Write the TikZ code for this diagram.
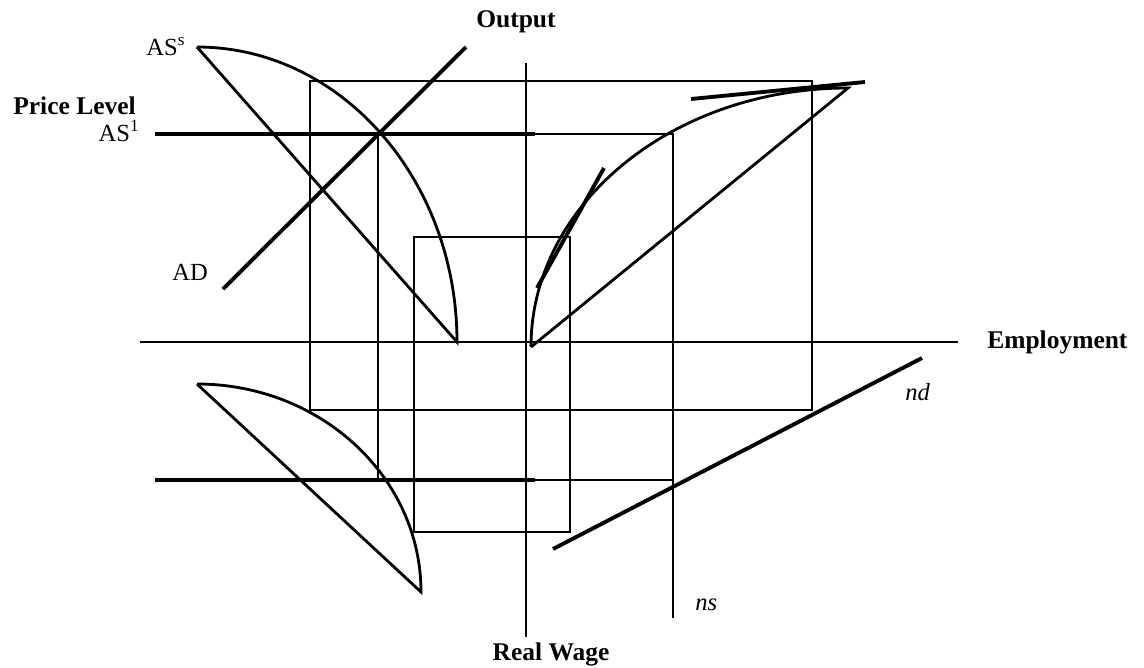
\documentclass[tikz,border=0pt]{standalone}
\usepackage{fontspec}
\setmainfont{Liberation Serif}
\usetikzlibrary{positioning}

\begin{document}
\begin{tikzpicture}[
  x=0.02cm, y=0.02cm,
  axis/.style={line width=1.3pt},
  guide/.style={line width=1.1pt},
  curve/.style={line width=1.6pt},
  heavy/.style={line width=2.2pt},
  axislabel/.style={font=\fontsize{14.5}{17}\selectfont\bfseries, inner sep=0pt},
  curvelabel/.style={font=\fontsize{14}{16}\selectfont, inner sep=0pt}
]
\useasboundingbox (0,0) rectangle (1144,-667);

% axes
\coordinate (wleft) at (140,-342);
\coordinate (wright) at (958,-342);
\coordinate (ytop) at (526,-63);
\coordinate (ybot) at (526,-637);
\draw[axis] (wleft) -- (wright);
\draw[axis] (ytop) -- (ybot);

\node[axislabel, anchor=base] (output) at (516,-27.5) {Output};
\node[axislabel, anchor=base west] (employment) at (987,-348) {Employment};
\node[axislabel, anchor=base] (realwage) at (551,-660) {Real Wage};
\node[axislabel, anchor=base west] (pricelevel) at (13,-114) {Price Level};

% guide boxes
\draw[guide] (310,-81) rectangle (812,-410);
\draw[guide] (414,-237) rectangle (570,-532);
\draw[guide] (378,-134) rectangle (673,-480);

% aggregate supply and demand
\coordinate (asstop) at (197,-47);
\coordinate (assbot) at (457,-342);
\draw[curve] (asstop) arc[start angle=90, end angle=0, x radius=260, y radius=295] -- (asstop);
\coordinate (adlow) at (223,-289);
\coordinate (adhigh) at (466,-47);
\draw[heavy] (adlow) -- (adhigh);
\coordinate (as1left) at (155,-134);
\coordinate (as1right) at (535,-134);
\draw[heavy] (as1left) -- (as1right);

\node[curvelabel, anchor=base west] (asslabel) at (146,-55) {AS\textsuperscript{s}};
\node[curvelabel, anchor=base east] (as1label) at (140,-141) {AS\textsuperscript{1}};
\node[curvelabel, anchor=base west] (adlabel) at (172,-280) {AD};

% production function
\coordinate (prodstart) at (531,-347);
\coordinate (prodtop) at (848,-88);
\draw[curve] (prodstart) arc[start angle=180, end angle=90, x radius=317, y radius=259] -- (prodstart);
\coordinate (tanalow) at (537,-288);
\coordinate (tanahigh) at (604,-168);
\draw[heavy] (tanalow) -- (tanahigh);
\coordinate (tanbleft) at (691,-99);
\coordinate (tanbright) at (865,-82);
\draw[heavy] (tanbleft) -- (tanbright);

% lower left lens
\coordinate (wagetop) at (197,-384);
\coordinate (wagebot) at (421,-592);
\draw[curve] (wagetop) arc[start angle=90, end angle=0, x radius=224, y radius=208] -- (wagetop);
\coordinate (wageleft) at (155,-480);
\coordinate (wageright) at (535,-480);
\draw[heavy] (wageleft) -- (wageright);

% labour market
\coordinate (ndlow) at (553,-549);
\coordinate (ndhigh) at (922,-358);
\draw[heavy] (ndlow) -- (ndhigh);
\coordinate (nstop) at (673,-134);
\coordinate (nsbot) at (673,-618);
\draw[axis] (nstop) -- (nsbot);

\node[curvelabel, anchor=base west] (ndlabel) at (905,-400) {\textit{nd}};
\node[curvelabel, anchor=base west] (nslabel) at (695,-610) {\textit{ns}};
\end{tikzpicture}
\end{document}
